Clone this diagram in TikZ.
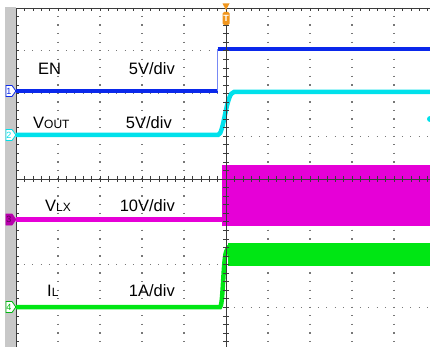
\documentclass[tikz,border=0pt]{standalone}
\usepackage{fontspec}
\setmainfont{Liberation Sans}
\usetikzlibrary{positioning,shapes.symbols}

\definecolor{enblue}{RGB}{10,40,235}
\definecolor{vocyan}{RGB}{0,225,235}
\definecolor{lxmag}{RGB}{230,0,215}
\definecolor{ilgreen}{RGB}{0,230,20}
\definecolor{trigor}{RGB}{240,150,30}
\definecolor{bargrey}{RGB}{200,200,200}
\definecolor{dotgrey}{RGB}{120,120,120}
\definecolor{axgrey}{RGB}{60,60,60}

\tikzset{
  trace/.style={line width=4.5pt},
  sigtext/.style={font=\fontsize{16.5}{18}\selectfont, anchor=base west, inner sep=0pt},
  divtext/.style={font=\fontsize{16.5}{18}\selectfont, anchor=base east, inner sep=0pt},
  chmark/.style={shape=signal, signal to=east, signal pointer angle=110, fill=white,
    line width=0.8pt, minimum width=9pt, minimum height=11pt, inner sep=0.5pt,
    font=\fontsize{9}{9}\selectfont},
  gridv/.style={dotgrey, line width=1.3pt, dash pattern=on 1.3pt off 7.25pt, dash phase=0.65pt},
  gridh/.style={dotgrey, line width=1.3pt, dash pattern=on 1.3pt off 7.1pt, dash phase=0.65pt},
}
\newcommand{\smallcap}[1]{{\fontsize{12}{12}\selectfont #1}}

\begin{document}
\begin{tikzpicture}[x=1pt,y=-1pt]
  \useasboundingbox (0,0) rectangle (430,347);
  % grey bar on the left
  \fill[bargrey] (5,7) rectangle (15.5,347);

  % dotted grid
  \foreach \i in {1,2,3,4,6,7,8,9}
    \draw[gridv] (16+42*\i,8) -- (16+42*\i,347);
  \foreach \j in {1,2,3,5,6,7}
    \draw[gridh] (16,8+42.75*\j) -- (430,8+42.75*\j);

  % border with ticks
  \draw[axgrey, line width=0.7pt] (16,8) -- (430,8);
  \draw[axgrey, line width=0.7pt] (16,8) -- (16,347);
  \foreach \i in {1,...,49}
    \draw[axgrey, line width=0.6pt] (16+8.4*\i,8) -- ++(0,3);
  \foreach \j in {1,...,39}
    \draw[axgrey, line width=0.6pt] (16,8+8.55*\j) -- ++(3,0);

  % EN
  \draw[trace, enblue] (16,91) -- (217.5,91);
  \draw[enblue!55, line width=1pt] (217.5,91) -- (217.5,49);
  \draw[trace, enblue] (217.5,49) -- (430,49);

  % VOUT
  \draw[trace, vocyan] (16,135) -- (218,135)
    .. controls (224,135) and (226,92) .. (234,92) -- (430,92);
  \fill[vocyan] (430,119) circle (3);

  % VLX
  \draw[trace, lxmag] (16,219.5) -- (222,219.5);
  \fill[lxmag] (222,165) rectangle (430,225.5);

  % IL
  \draw[trace, ilgreen] (16,307) -- (220,307)
    .. controls (223,307) and (223,262) .. (226,252) -- (229,246);
  \fill[ilgreen] (228,243) rectangle (430,266);

  % centre axes
  \draw[axgrey, line width=0.7pt] (226,8) -- (226,347);
  \draw[axgrey, line width=0.7pt] (16,179) -- (430,179);
  \foreach \i in {1,...,49}
    \draw[axgrey, line width=0.6pt] (16+8.4*\i,176) -- ++(0,6);
  \foreach \j in {1,...,39}
    \draw[axgrey, line width=0.6pt] (223,8+8.55*\j) -- ++(6,0);

  % trigger marker
  \fill[trigor] (222.5,3.5) -- (229.5,3.5) -- (226,10) -- cycle;
  \node[fill=trigor, rounded corners=1.5pt, text=white, inner sep=0pt,
    minimum width=7pt, minimum height=13pt,
    font=\fontsize{9}{9}\selectfont\bfseries] (trig) at (226,18.5) {T};

  % channel markers
  \node[chmark, draw=enblue, text=enblue] (mk1) at (9,91) {1};
  \node[chmark, draw=vocyan, text=vocyan] (mk2) at (9,135) {2};
  \node[chmark, draw=lxmag!80!black, fill=lxmag!80!black, text=lxmag!40!black] (mk3) at (9,219.5) {3};
  \node[chmark, draw=ilgreen!80!black, text=ilgreen!80!black] (mk4) at (9,307) {4};

  % labels
  \node[sigtext] (en) at (38,75) {EN};
  \node[divtext] (enscale) at (175,75) {5V/div};
  \node[sigtext] (vout) at (33,129) {V\smallcap{OUT}};
  \node[divtext] (voutscale) at (172,129) {5V/div};
  \node[sigtext] (vlx) at (45,211) {V\smallcap{LX}};
  \node[divtext] (vlxscale) at (175,211) {10V/div};
  \node[sigtext] (il) at (47,296) {I\smallcap{L}};
  \node[divtext] (ilscale) at (175,296) {1A/div};
\end{tikzpicture}
\end{document}
